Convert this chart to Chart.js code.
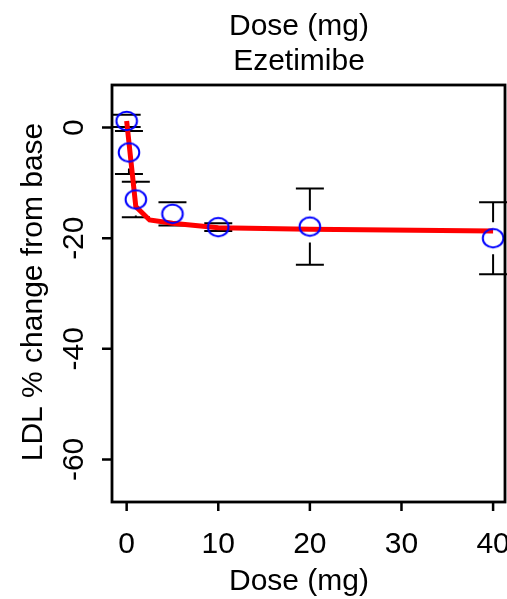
<!DOCTYPE html>
<html>
<head>
<meta charset="utf-8">
<script src="https://cdn.jsdelivr.net/npm/chart.js@4/dist/chart.umd.min.js"></script>
<style>
  html, body { margin: 0; padding: 0; background: #fff; }
  #wrap { width: 507px; height: 599px; }
</style>
</head>
<body>
<div id="wrap"><canvas id="myChart" width="507" height="599"></canvas></div>
<script>
// observed means with half-width of the error bars
const doses = [0, 0.25, 1, 5, 10, 20, 40];
const meanChange = [1.2, -4.5, -13.0, -15.6, -18.0, -17.9, -20.0];
const errHalf = [1.1, 3.9, 3.2, 2.1, 0.7, 6.9, 6.5];

// fitted curve (red)
const fitDoses = [0, 1, 2.5, 5, 10, 20, 40];
const fitChange = [1.2, -14.3, -16.7, -17.3, -18.1, -18.4, -18.7];

const xTicks = [0, 10, 20, 30, 40];
const yTicks = [0, -20, -40, -60];

const FONT = '30px "Liberation Sans", Arial, sans-serif';

function ring() {
  const c = document.createElement('canvas');
  c.width = 26; c.height = 24;
  const g = c.getContext('2d');
  g.strokeStyle = '#0000ff';
  g.lineWidth = 2;
  g.beginPath();
  g.ellipse(13, 12, 10.3, 9.2, 0, 0, 2 * Math.PI);
  g.stroke();
  return c;
}

// error bars, with a gap around the point like plotCI
const errorBars = {
  id: 'errorBars',
  beforeDatasetsDraw(chart) {
    const ctx = chart.ctx, xs = chart.scales.x, ys = chart.scales.y;
    const gap = 16, cap = 14;
    ctx.save();
    ctx.strokeStyle = '#000';
    ctx.lineWidth = 2;
    doses.forEach((d, i) => {
      const px = xs.getPixelForValue(d);
      const pm = ys.getPixelForValue(meanChange[i]);
      const pt = ys.getPixelForValue(meanChange[i] + errHalf[i]);
      const pb = ys.getPixelForValue(meanChange[i] - errHalf[i]);
      ctx.beginPath();
      if (pm - pt > gap) { ctx.moveTo(px, pt); ctx.lineTo(px, pm - gap); }
      if (pb - pm > gap) { ctx.moveTo(px, pm + gap); ctx.lineTo(px, pb); }
      ctx.moveTo(px - cap, pt); ctx.lineTo(px + cap, pt);
      ctx.moveTo(px - cap, pb); ctx.lineTo(px + cap, pb);
      ctx.stroke();
    });
    ctx.restore();
  }
};

// R style box, axes and texts
const rFrame = {
  id: 'rFrame',
  afterDraw(chart) {
    const ctx = chart.ctx, a = chart.chartArea;
    const xs = chart.scales.x, ys = chart.scales.y;
    ctx.save();
    ctx.strokeStyle = '#000';
    ctx.lineWidth = 2.8;
    ctx.strokeRect(a.left, a.top, a.right - a.left, a.bottom - a.top);

    ctx.fillStyle = '#000';
    ctx.font = FONT;
    ctx.lineWidth = 2.5;
    ctx.beginPath();
    xTicks.forEach(t => {
      const px = xs.getPixelForValue(t);
      ctx.moveTo(px, a.bottom); ctx.lineTo(px, a.bottom + 9);
    });
    yTicks.forEach(t => {
      const py = ys.getPixelForValue(t);
      ctx.moveTo(a.left, py); ctx.lineTo(a.left - 10, py);
    });
    ctx.stroke();

    ctx.textAlign = 'center';
    ctx.textBaseline = 'alphabetic';
    xTicks.forEach(t => ctx.fillText(String(t), xs.getPixelForValue(t), 553));
    yTicks.forEach(t => {
      ctx.save();
      ctx.translate(83, ys.getPixelForValue(t));
      ctx.rotate(-Math.PI / 2);
      ctx.fillText(String(t), 0, 0);
      ctx.restore();
    });

    ctx.fillText('Dose (mg)', 299, 35);
    ctx.fillText('Ezetimibe', 299, 70);
    ctx.fillText('Dose (mg)', 299, 590);
    ctx.save();
    ctx.translate(42, 292);
    ctx.rotate(-Math.PI / 2);
    ctx.fillText('LDL % change from base', 0, 0);
    ctx.restore();
    ctx.restore();
  }
};

new Chart(document.getElementById('myChart'), {
  type: 'scatter',
  data: {
    datasets: [{
      label: 'observed',
      data: doses.map((d, i) => ({ x: d, y: meanChange[i] })),
      pointStyle: ring(),
      pointRadius: 10,
      showLine: false
    }, {
      label: 'fit',
      data: fitDoses.map((d, i) => ({ x: d, y: fitChange[i] })),
      showLine: true,
      borderColor: '#ff0000',
      borderWidth: 5,
      pointRadius: 0,
      tension: 0
    }]
  },
  options: {
    responsive: false,
    animation: false,
    layout: { autoPadding: false, padding: { left: 112, top: 85, right: 2, bottom: 97 } },
    plugins: { legend: { display: false }, tooltip: { enabled: false } },
    scales: {
      x: { type: 'linear', min: -1.6, max: 41.3, display: false },
      y: { type: 'linear', min: -67.7, max: 7.7, display: false }
    }
  },
  plugins: [errorBars, rFrame]
});
</script>
</body>
</html>
